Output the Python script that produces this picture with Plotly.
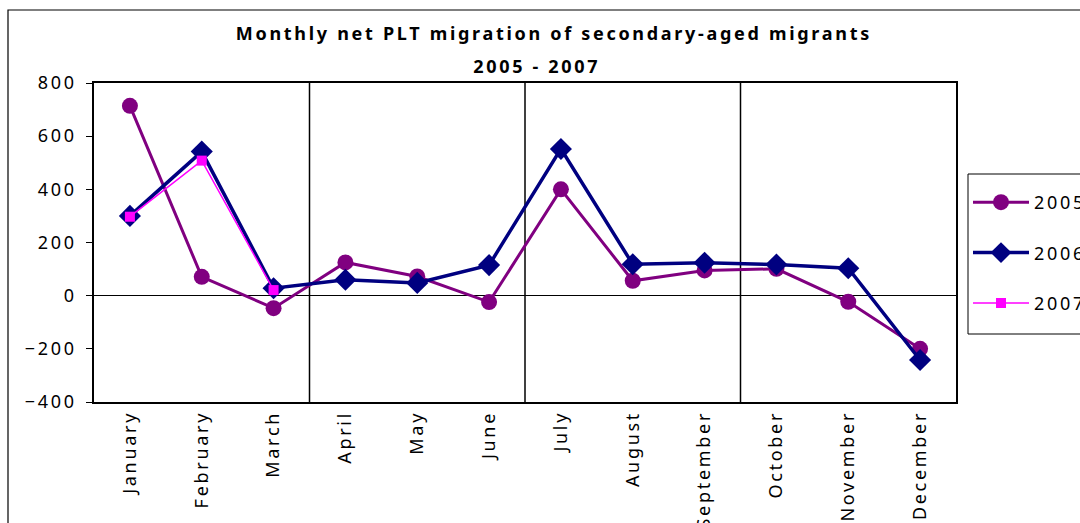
import plotly.graph_objects as go

months = ["January", "February", "March", "April", "May", "June", "July",
          "August", "September", "October", "November", "December"]
y2005 = [714, 71, -47, 125, 72, -24, 400, 56, 95, 101, -23, -200]
y2006 = [300, 542, 28, 60, 48, 115, 552, 118, 124, 117, 103, -242]
y2007 = [297, 508, 21]
y_ticks = [-400, -200, 0, 200, 400, 600, 800]
title_line1 = "Monthly net PLT migration of secondary-aged migrants"
title_line2 = "2005 - 2007"

FONT = "Noto Sans, Liberation Sans, Arial, sans-serif"
FS = 18

fig = go.Figure()
fig.add_trace(go.Scatter(x=months, y=y2005, name="2005", mode="lines+markers",
                         legendgroup="a",
                         line=dict(color="#800080", width=3),
                         marker=dict(symbol="circle", size=16, color="#800080")))
fig.add_trace(go.Scatter(x=months, y=y2006, name="2006", mode="lines+markers",
                         legendgroup="b",
                         line=dict(color="#000080", width=3.5),
                         marker=dict(symbol="diamond", size=17, color="#000080")))
fig.add_trace(go.Scatter(x=months[:len(y2007)], y=y2007, name="2007", mode="lines+markers",
                         legendgroup="c",
                         line=dict(color="#FF00FF", width=1.5),
                         marker=dict(symbol="square", size=10, color="#FF00FF")))

shapes = []
# quarter separators
for i in range(3, len(months), 3):
    shapes.append(dict(type="line", xref="x", yref="paper", x0=i - 0.5, x1=i - 0.5,
                       y0=0, y1=1, line=dict(color="black", width=1.5), layer="below"))
# outer chart border
shapes.append(dict(type="rect", xref="paper", yref="paper",
                   x0=(8 - 94) / 862, x1=(1095 - 94) / 862,
                   y0=(402 - 540) / 319, y1=(402 - 10) / 319,
                   line=dict(color="black", width=1.2), fillcolor="rgba(0,0,0,0)"))
# legend box
shapes.append(dict(type="rect", xref="paper", yref="paper",
                   x0=(968 - 94) / 862, x1=(1095 - 94) / 862,
                   y0=(402 - 334) / 319, y1=(402 - 174) / 319,
                   line=dict(color="black", width=1), fillcolor="white", layer="above"))

fig.update_layout(
    width=1080, height=523,
    margin=dict(l=94, r=124, t=83, b=121, autoexpand=False),
    paper_bgcolor="white", plot_bgcolor="white",
    font=dict(family=FONT, size=FS, color="black"),
    showlegend=True,
    legend=dict(x=(968 - 94) / 862, y=(402 - 184) / 319, xanchor="left", yanchor="top",
                borderwidth=0, bgcolor="rgba(0,0,0,0)",
                font=dict(family=FONT, size=FS, color="black"),
                tracegroupgap=24, itemwidth=56),
    shapes=shapes,
    annotations=[
        dict(text=title_line1, xref="paper", yref="paper", x=(554 - 94) / 862,
             y=(402 - 33) / 319, showarrow=False, xanchor="center", yanchor="middle",
             font=dict(family=FONT, size=FS, color="black", weight="bold")),
        dict(text=title_line2, xref="paper", yref="paper", x=(537 - 94) / 862,
             y=(402 - 66) / 319, showarrow=False, xanchor="center", yanchor="middle",
             font=dict(family=FONT, size=FS, color="black", weight="bold")),
    ],
)
fig.update_xaxes(type="category", range=[-0.5, len(months) - 0.5],
                 showline=True, mirror=True, linecolor="black", linewidth=1.5,
                 showgrid=False, zeroline=False, ticks="", tickangle=-90,
                 tickfont=dict(family=FONT, size=FS))
fig.update_yaxes(range=[-400, 800], tickvals=y_ticks,
                 showline=True, mirror=True, linecolor="black", linewidth=1.5,
                 showgrid=False, zeroline=True, zerolinecolor="black", zerolinewidth=1,
                 ticks="outside", ticklen=6, tickcolor="black", ticklabelstandoff=6,
                 tickfont=dict(family=FONT, size=FS))

post = """
var s = document.createElement('style');
s.textContent = 'body { margin: 0 !important; } .main-svg text { letter-spacing: 2.7px; font-stretch: condensed; }';
document.head.appendChild(s);
"""
fig.write_html("out.html", post_script=post, config={"displayModeBar": False})
